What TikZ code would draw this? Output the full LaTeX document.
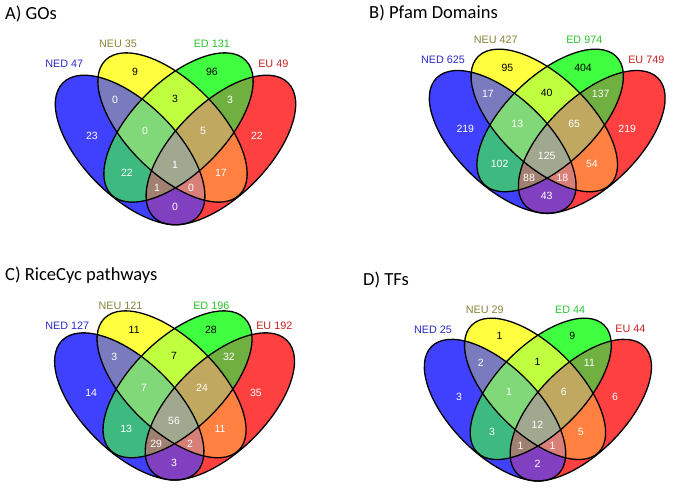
\documentclass[tikz,border=0pt]{standalone}
\usepackage{fontspec}
\setmainfont{Liberation Sans}
\newfontfamily\titlefont{Carlito}
\definecolor{cA}{HTML}{4040FF}
\definecolor{cB}{HTML}{FFFF40}
\definecolor{cC}{HTML}{40FF40}
\definecolor{cD}{HTML}{FF4040}
\definecolor{cAB}{HTML}{7A7ABF}
\definecolor{cAC}{HTML}{3EBA80}
\definecolor{cAD}{HTML}{8040C0}
\definecolor{cBC}{HTML}{C0FF40}
\definecolor{cBD}{HTML}{FF8040}
\definecolor{cCD}{HTML}{70B040}
\definecolor{cABC}{HTML}{80D878}
\definecolor{cABD}{HTML}{D88078}
\definecolor{cACD}{HTML}{A08070}
\definecolor{cBCD}{HTML}{C0A860}
\definecolor{cABCD}{HTML}{A0A890}
\definecolor{tNED}{HTML}{2A2AC8}
\definecolor{tNEU}{HTML}{85853A}
\definecolor{tED}{HTML}{2AC42A}
\definecolor{tEU}{HTML}{C82020}
\tikzset{
  eA/.style={rotate around={-45:(130.1,150)}, insert path={(130.1,150) ellipse (95pt and 46.5pt)}},
  eB/.style={rotate around={-45:(172.5,127.5)}, insert path={(172.5,127.5) ellipse (95pt and 46pt)}},
  eC/.style={rotate around={45:(178.5,127.5)}, insert path={(178.5,127.5) ellipse (95pt and 46pt)}},
  eD/.style={rotate around={45:(220.9,150)}, insert path={(220.9,150) ellipse (95pt and 46.5pt)}},
  outl/.style={draw=black, line width=1.3pt},
  numw/.style={font=\fontsize{10.5}{12}\selectfont, text=white, inner sep=0pt},
  numk/.style={numw, text=black},
  setlab/.style={font=\fontsize{10.8}{12}\selectfont, inner sep=0pt},
  ttl/.style={font=\titlefont\fontsize{18.5}{22}\selectfont, anchor=base west, inner sep=0pt}
}
\newcommand\vennshapes{%
  \fill[cA, eA]; \fill[cB, eB]; \fill[cC, eC]; \fill[cD, eD];
  \begin{scope}\clip[eA]; \fill[cAB, eB]; \fill[cAC, eC]; \fill[cAD, eD]; \end{scope}
  \begin{scope}\clip[eB]; \fill[cBC, eC]; \fill[cBD, eD]; \end{scope}
  \begin{scope}\clip[eC]; \fill[cCD, eD]; \end{scope}
  \begin{scope}\clip[eA]; \clip[eB]; \fill[cABC, eC]; \fill[cABD, eD]; \end{scope}
  \begin{scope}\clip[eA]; \clip[eC]; \fill[cACD, eD]; \end{scope}
  \begin{scope}\clip[eB]; \clip[eC]; \fill[cBCD, eD]; \end{scope}
  \begin{scope}\clip[eA]; \clip[eB]; \clip[eC]; \fill[cABCD, eD]; \end{scope}
  \path[outl, eA]; \path[outl, eB]; \path[outl, eC]; \path[outl, eD];
}
% prefix, A, B, C, D, AB, BC, CD, ABC
\newcommand\vennnumsA[9]{%
  \node[numw] (#1-a) at (92,136) {#2};
  \node[numk] (#1-b) at (135,72) {#3};
  \node[numk] (#1-c) at (212,72) {#4};
  \node[numw] (#1-d) at (257,136) {#5};
  \node[numw] (#1-ab) at (115,100) {#6};
  \node[numk] (#1-bc) at (175,99) {#7};
  \node[numw] (#1-cd) at (230,100) {#8};
  \node[numw] (#1-abc) at (145,131) {#9};
}
% prefix, BCD, ABCD, AC, BD, ACD, ABD, AD
\newcommand\vennnumsB[8]{%
  \node[numw] (#1-bcd) at (203,131) {#2};
  \node[numw] (#1-abcd) at (175,165) {#3};
  \node[numw] (#1-ac) at (127,173) {#4};
  \node[numw] (#1-bd) at (221,173) {#5};
  \node[numw] (#1-acd) at (157,188) {#6};
  \node[numw] (#1-abd) at (191,188) {#7};
  \node[numw] (#1-ad) at (175,207) {#8};
}
\begin{document}
\begin{tikzpicture}[x=1pt,y=-1pt]
\useasboundingbox[fill=white] (0,0) rectangle (673,488);

% Panel A
\node[ttl] (tA) at (5,19) {A) GOs};
\begin{scope}[shift={(55.7,53)}, xscale=1, yscale=1, shift={(-55.7,-53)}]
  \vennshapes
  \vennnumsA{pa}{23}{9}{96}{22}{0}{3}{3}{0}
  \vennnumsB{pa}{5}{1}{22}{17}{1}{0}{0}
\end{scope}
\node[setlab, text=tNED] (pa-ned) at (64.2,63.3) {NED 47};
\node[setlab, text=tNEU] (pa-neu) at (118,43.3) {NEU 35};
\node[setlab, text=tED] (pa-ed) at (211.8,43.3) {ED 131};
\node[setlab, text=tEU] (pa-eu) at (273.3,63.3) {EU 49};

% Panel B
\node[ttl] (tB) at (369,18.6) {B) Pfam Domains};
\begin{scope}[shift={(429.7,49.3)}, xscale=0.981, yscale=0.955, shift={(-55.7,-53)}]
  \vennshapes
  \vennnumsA{pb}{219}{95}{404}{219}{17}{40}{137}{13}
  \vennnumsB{pb}{65}{125}{102}{54}{88}{18}{43}
\end{scope}
\node[setlab, text=tNED] (pb-ned) at (443,60) {NED 625};
\node[setlab, text=tNEU] (pb-neu) at (495.8,40) {NEU 427};
\node[setlab, text=tED] (pb-ed) at (584.3,40) {ED 974};
\node[setlab, text=tEU] (pb-eu) at (646.3,60) {EU 749};

% Panel C
\node[ttl] (tC) at (5,280) {C) RiceCyc pathways};
\begin{scope}[shift={(55,311)}, xscale=0.998, yscale=0.984, shift={(-55.7,-53)}]
  \vennshapes
  \vennnumsA{pc}{14}{11}{28}{35}{3}{7}{32}{7}
  \vennnumsB{pc}{24}{56}{13}{11}{29}{2}{3}
\end{scope}
\node[setlab, text=tNED] (pc-ned) at (67.2,326) {NED 127};
\node[setlab, text=tNEU] (pc-neu) at (120.5,305.7) {NEU 121};
\node[setlab, text=tED] (pc-ed) at (211.3,305.7) {ED 196};
\node[setlab, text=tEU] (pc-eu) at (274.3,326) {EU 192};

% Panel D
\node[ttl] (tD) at (363,285) {D) TFs};
\begin{scope}[shift={(424.7,318.3)}, xscale=0.945, yscale=0.947, shift={(-55.7,-53)}]
  \vennshapes
  \vennnumsA{pd}{3}{1}{9}{6}{2}{1}{11}{1}
  \vennnumsB{pd}{6}{12}{3}{5}{1}{1}{2}
\end{scope}
\node[setlab, text=tNED] (pd-ned) at (433,329.3) {NED 25};
\node[setlab, text=tNEU] (pd-neu) at (484.7,310) {NEU 29};
\node[setlab, text=tED] (pd-ed) at (570.2,310) {ED 44};
\node[setlab, text=tEU] (pd-eu) at (630.5,329.3) {EU 44};
\end{tikzpicture}
\end{document}
